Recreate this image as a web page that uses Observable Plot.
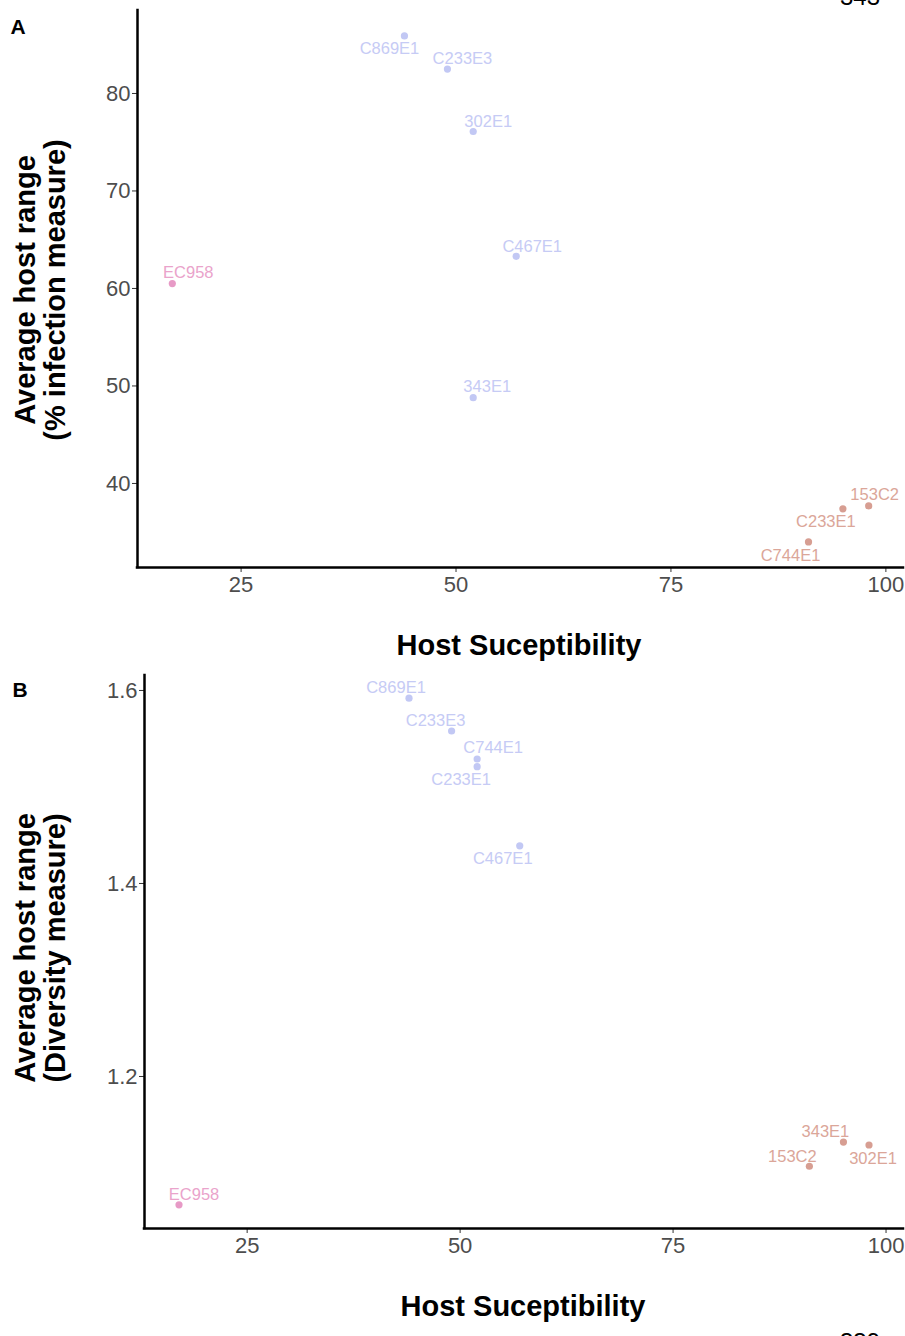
<!DOCTYPE html>
<html><head><meta charset="utf-8">
<script src="https://cdn.jsdelivr.net/npm/d3@7"></script>
<script src="https://cdn.jsdelivr.net/npm/@observablehq/plot@0.6"></script>
<style>
body{margin:0;background:#fff;font-family:"Liberation Sans",Arial,sans-serif;}
#page{position:relative;width:905px;height:1336px;overflow:hidden;background:#fff;}
.panel{position:absolute;left:0;}
.ytitle{position:absolute;width:400px;text-align:center;font-weight:bold;font-size:29px;line-height:30px;color:#000;transform:translate(-50%,-50%) rotate(-90deg);white-space:nowrap;}
.xtitle{position:absolute;font-weight:bold;font-size:29px;color:#000;transform:translate(-50%,-50%);white-space:nowrap;}
.tag{position:absolute;font-weight:bold;font-size:21px;color:#000;transform:translate(-50%,-50%);}
.pgnum{position:absolute;font-size:24px;color:#000;}
</style></head><body><div id="page"></div><script>
// ---- Panel A data (infection measure) ----
const phagesA = ["C869E1","C233E3","302E1","C467E1","EC958","343E1","153C2","C233E1","C744E1"];
const suscA   = [44, 49, 52, 57, 17, 52, 98, 95, 91];
const rangeA  = [85.9, 82.5, 76.1, 63.3, 60.5, 48.8, 37.7, 37.4, 34.0];
const groupA  = ["blue","blue","blue","blue","pink","blue","salmon","salmon","salmon"];
// ---- Panel B data (diversity measure) ----
const phagesB = ["C869E1","C233E3","C744E1","C233E1","C467E1","343E1","302E1","153C2","EC958"];
const suscB   = [44, 49, 52, 52, 57, 95, 98, 91, 17];
const rangeB  = [1.592, 1.558, 1.529, 1.521, 1.439, 1.132, 1.129, 1.107, 1.067];
const groupB  = ["blue","blue","blue","blue","blue","salmon","salmon","salmon","pink"];
// tick labels
const xTicks  = [25, 50, 75, 100];
const yTicksA = [40, 50, 60, 70, 80];
const yTicksB = [1.2, 1.4, 1.6];

// ---- layout / style (not data) ----
const dotColor   = {blue:"#c2c8f4", pink:"#e79ac6", salmon:"#d79e92"};
const labelColor = {blue:"#c6cbf5", pink:"#eaa3cb", salmon:"#dba699"};
// ggrepel-like label nudges (pixels)
const nudgeA = [[-15,13],[15,-10],[15,-10],[16,-10],[16,-11],[14,-11],[6,-11],[-17,13],[-18,14]];
const nudgeB = [[-13,-10],[-16,-10],[16,-11],[-16,13],[-17,13],[-18,-10],[4,14],[-17,-10],[15,-10]];
const xDomain  = [12.95, 102.05];
const yDomainA = [31.38, 88.51];
const yDomainB = [1.0425, 1.6155];

const page = document.getElementById("page");

function panel(phages, susc, range, group, nudge, yDomain, yTicks, opts){
  const data = phages.map((p,i)=>({phage:p, x:susc[i], y:range[i], g:group[i]}));
  const labels = data.map((d,i)=>Plot.text([d], {
    x:"x", y:"y", text:"phage", dx:nudge[i][0], dy:nudge[i][1],
    fill: labelColor[d.g], fontSize:16.5, fontFamily:"Liberation Sans, Arial, sans-serif"
  }));
  const plot = Plot.plot({
    width:905, height:opts.height,
    marginLeft:opts.left, marginRight:2, marginTop:opts.top, marginBottom:opts.bottom,
    style:{fontFamily:"Liberation Sans, Arial, sans-serif", background:"transparent", overflow:"visible"},
    x:{domain:xDomain},
    y:{domain:yDomain},
    color:{type:"identity"},
    marks:[
      Plot.axisX({ticks:xTicks, tickSize:5, tickPadding:4, fontSize:22, fill:"#4d4d4d", stroke:"#333", label:null}),
      Plot.axisY({ticks:yTicks, tickSize:5, tickPadding:2, fontSize:22, fill:"#4d4d4d", stroke:"#333", label:null,
                  tickFormat: opts.fmt}),
      Plot.ruleX([xDomain[0]], {stroke:"#000", strokeWidth:2.5, strokeLinecap:"square"}),
      Plot.ruleY([yDomain[0]], {stroke:"#000", strokeWidth:2.5, strokeLinecap:"square"}),
      Plot.dot(data, {x:"x", y:"y", r:3.6, fill:d=>dotColor[d.g], stroke:null}),
      ...labels
    ]
  });
  const wrap = document.createElement("div");
  wrap.className = "panel";
  wrap.style.top = opts.offset + "px";
  wrap.appendChild(plot);
  page.appendChild(wrap);
}

panel(phagesA, suscA, rangeA, groupA, nudgeA, yDomainA, yTicksA,
  {height:660, left:137, top:10, bottom:93, offset:0, fmt:d3.format("d")});
panel(phagesB, suscB, rangeB, groupB, nudgeB, yDomainB, yTicksB,
  {height:676, left:144, top:15, bottom:108, offset:660, fmt:d3.format(".1f")});

function addDiv(cls, html, x, y){
  const d = document.createElement("div");
  d.className = cls; d.innerHTML = html;
  d.style.left = x + "px"; d.style.top = y + "px";
  page.appendChild(d);
}
addDiv("ytitle", "Average host range<br>(% infection measure)", 40, 290);
addDiv("ytitle", "Average host range<br>(Diversity measure)", 40, 948);
addDiv("xtitle", "Host Suceptibility", 519, 645);
addDiv("xtitle", "Host Suceptibility", 523, 1306);
addDiv("tag", "A", 18, 27);
addDiv("tag", "B", 20, 690);
addDiv("pgnum", "343", 840, -17);
addDiv("pgnum", "339", 840, 1328);
</script></body></html>
